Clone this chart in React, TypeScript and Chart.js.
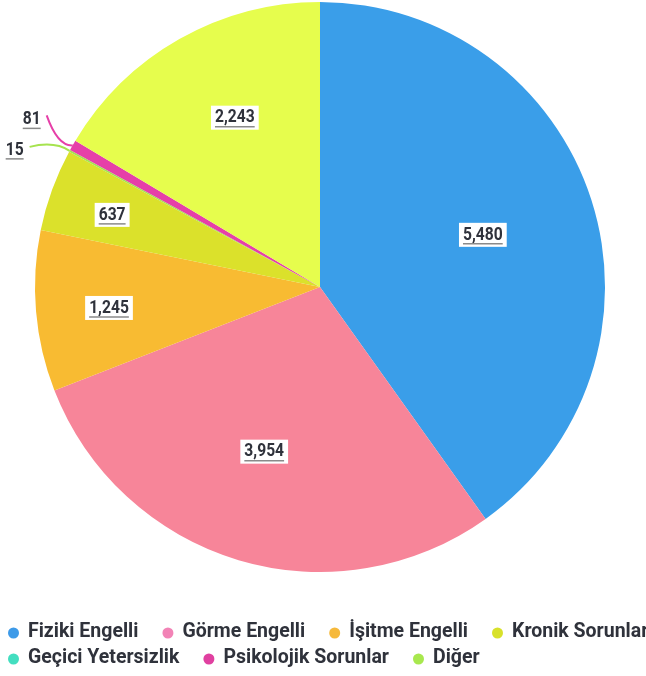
import React, { useEffect, useRef } from "react";
import { Chart, registerables } from "chart.js";

Chart.register(...registerables);

const categories = [
  "Fiziki Engelli",
  "Görme Engelli",
  "İşitme Engelli",
  "Kronik Sorunlar",
  "Geçici Yetersizlik",
  "Psikolojik Sorunlar",
  "Diğer",
];
const values = [5480, 3954, 1245, 637, 15, 81, 2243];
const sliceColors = ["#3a9ee9", "#f78599", "#f8bb32", "#dbe12b", "#a6e34f", "#e63fa8", "#e6fd4d"];
const legendColors = ["#3d9ae8", "#f283b6", "#f6b93b", "#d8e12a", "#43dec0", "#e040a0", "#a8e84e"];

const TEXT_COLOR = "#2f323b";
const LABEL_FONT = "bold 17px 'Roboto', sans-serif";
const LEGEND_FONT = "bold 19.5px 'Roboto', sans-serif";

function drawLabel(ctx: CanvasRenderingContext2D, text: string, cx: number, cy: number, align: "center" | "right") {
  ctx.font = LABEL_FONT;
  const sx = 0.92;
  const w = ctx.measureText(text).width * sx;
  const left = align === "center" ? cx - w / 2 : cx - w;
  ctx.fillStyle = "#ffffff";
  ctx.fillRect(left - 4, cy - 12, w + 8, 24);
  ctx.fillStyle = TEXT_COLOR;
  ctx.textAlign = "left";
  ctx.textBaseline = "middle";
  ctx.save();
  ctx.translate(left, cy);
  ctx.scale(sx, 1.1);
  ctx.fillText(text, 0, 0);
  ctx.restore();
  ctx.strokeStyle = "#8a8a8a";
  ctx.lineWidth = 1.5;
  ctx.beginPath();
  ctx.moveTo(left, cy + 9);
  ctx.lineTo(left + w, cy + 9);
  ctx.stroke();
}

function labelPlacement(span: number): [number, number] {
  // [radius fraction, angular shift in radians]
  if (span >= 120) return [0.6, 0];
  if (span >= 90) return [0.61, 0.037];
  if (span >= 40) return [0.665, 0.05];
  if (span >= 20) return [0.744, -0.014];
  return [0.772, -0.014];
}

const labelPlugin = {
  id: "valueLabels",
  afterDatasetsDraw(chart: any) {
    const ctx: CanvasRenderingContext2D = chart.ctx;
    const meta = chart.getDatasetMeta(0);
    ctx.save();
    let outsideCount = 0;
    meta.data.forEach((arc: any, i: number) => {
      const { x, y, startAngle, endAngle, outerRadius } = arc.getProps(
        ["x", "y", "startAngle", "endAngle", "outerRadius"],
        true
      );
      const mid = (startAngle + endAngle) / 2;
      const span = ((endAngle - startAngle) * 180) / Math.PI;
      const text = values[i].toLocaleString("en-US");
      if (span >= 3) {
        const [frac, shift] = labelPlacement(span);
        const a = mid + shift;
        const lx = x + Math.cos(a) * outerRadius * frac;
        const ly = y + Math.sin(a) * outerRadius * frac;
        drawLabel(ctx, text, lx, ly, "center");
      } else {
        const ex = x + Math.cos(mid) * outerRadius;
        const ey = y + Math.sin(mid) * outerRadius;
        ctx.strokeStyle = sliceColors[i];
        ctx.lineWidth = 2;
        ctx.beginPath();
        if (outsideCount === 0) {
          ctx.moveTo(ex, ey);
          ctx.quadraticCurveTo(ex - 15, ey - 10, ex - 40, ey - 4);
          ctx.stroke();
          drawLabel(ctx, text, ex - 46, ey - 1, "right");
        } else {
          ctx.moveTo(ex, ey);
          ctx.quadraticCurveTo(ex - 15, ey + 1, ex - 26, ey - 30);
          ctx.stroke();
          drawLabel(ctx, text, ex - 32, ey - 26, "right");
        }
        outsideCount++;
      }
    });
    ctx.restore();
  },
};

const legendPlugin = {
  id: "customLegend",
  afterDraw(chart: any) {
    const ctx: CanvasRenderingContext2D = chart.ctx;
    const width = chart.width;
    ctx.save();
    ctx.font = LEGEND_FONT;
    ctx.textBaseline = "middle";
    ctx.textAlign = "left";
    let xPos = 8;
    let yPos = 632;
    categories.forEach((name, i) => {
      const tw = ctx.measureText(name).width;
      if (xPos > width - 40) {
        xPos = 8;
        yPos += 26;
      }
      ctx.fillStyle = legendColors[i];
      ctx.beginPath();
      ctx.arc(xPos + 5.5, yPos + 1, 5.5, 0, Math.PI * 2);
      ctx.fill();
      ctx.fillStyle = TEXT_COLOR;
      ctx.fillText(name, xPos + 20, yPos);
      xPos += 20 + tw + 24;
    });
    ctx.restore();
  },
};

export default function App() {
  const canvasRef = useRef<HTMLCanvasElement | null>(null);

  useEffect(() => {
    if (!canvasRef.current) return;
    const chart = new Chart(canvasRef.current, {
      type: "pie",
      data: {
        labels: categories,
        datasets: [
          {
            data: values,
            backgroundColor: sliceColors,
            borderWidth: 0,
          },
        ],
      },
      options: {
        responsive: false,
        animation: false,
        layout: { padding: { left: 35, right: 41, top: 2, bottom: 104 } },
        plugins: {
          legend: { display: false },
          tooltip: { enabled: false },
        },
      },
      plugins: [labelPlugin, legendPlugin],
    });
    return () => chart.destroy();
  }, []);

  return (
    <div style={{ position: "absolute", left: 0, top: 0, width: 646, height: 676, background: "#ffffff" }}>
      <canvas ref={canvasRef} width={646} height={676} />
    </div>
  );
}
